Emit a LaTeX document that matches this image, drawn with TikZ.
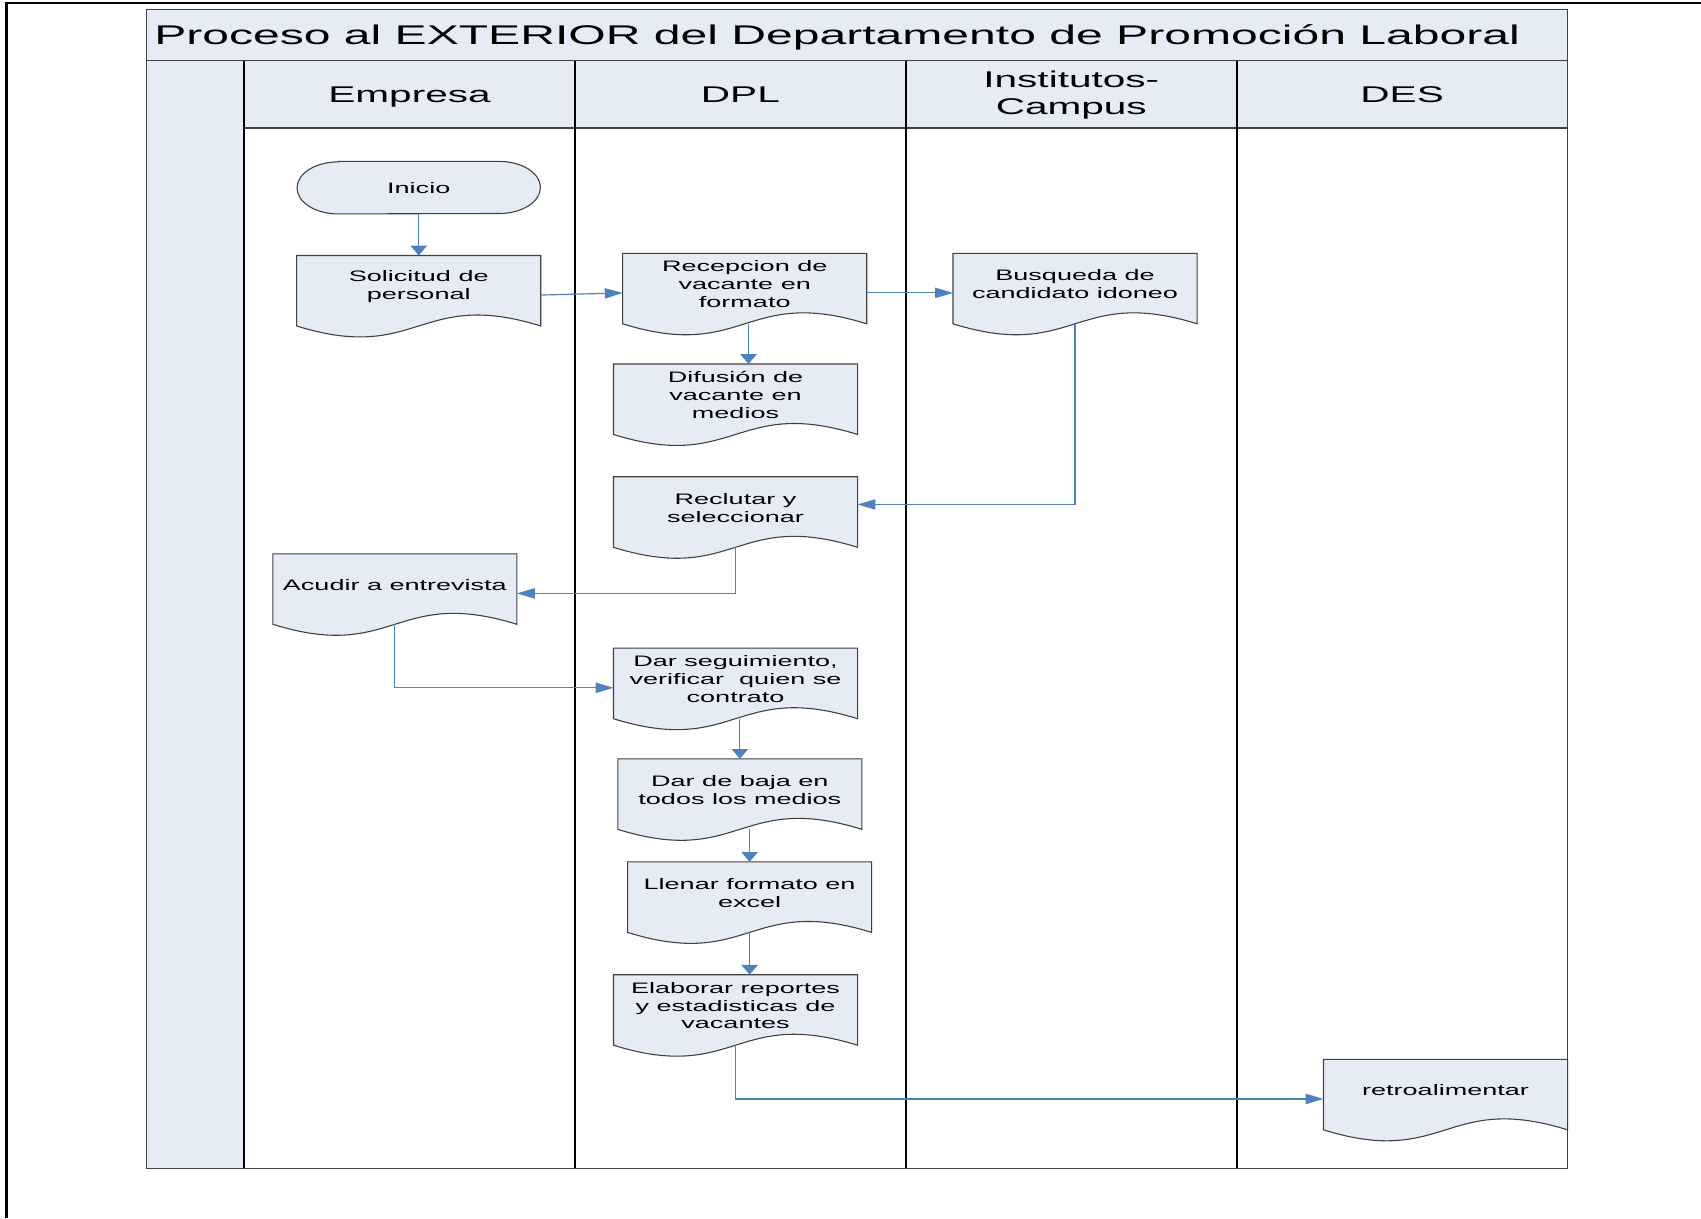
\documentclass[tikz,border=0pt]{standalone}
\usepackage{fontspec}
\setmainfont{Liberation Sans}[FakeStretch=1.78]
\usetikzlibrary{arrows.meta,backgrounds}

\definecolor{lanefill}{RGB}{230,236,246}
\definecolor{linkblue}{RGB}{79,129,189}
\definecolor{docline}{RGB}{64,64,64}

% document shape: box with a wavy bottom below the text box
\makeatletter
\newdimen\dwL \newdimen\dwR \newdimen\dwT \newdimen\dwB
\newdimen\dwM \newdimen\dwU \newdimen\dwD
\def\docdrop{8pt}
\def\docbend{35pt}
\pgfdeclareshape{docwave}{
  \inheritsavedanchors[from=rectangle]
  \inheritanchorborder[from=rectangle]
  \inheritanchor[from=rectangle]{center}
  \inheritanchor[from=rectangle]{north}
  \inheritanchor[from=rectangle]{south}
  \inheritanchor[from=rectangle]{east}
  \inheritanchor[from=rectangle]{west}
  \inheritanchor[from=rectangle]{north west}
  \inheritanchor[from=rectangle]{north east}
  \inheritanchor[from=rectangle]{south west}
  \inheritanchor[from=rectangle]{south east}
  \anchor{wave}{%
    \southwest \pgf@xa=\pgf@x \pgf@ya=\pgf@y
    \northeast
    \pgf@x=.5\pgf@x \advance\pgf@x by .5\pgf@xa
    \pgf@y=\pgf@ya \advance\pgf@y by -\docdrop
  }
  \backgroundpath{%
    \southwest \dwL=\pgf@x \dwB=\pgf@y
    \northeast \dwR=\pgf@x \dwT=\pgf@y
    \advance\dwB by -\docdrop
    \dwM=.5\dwL \advance\dwM by .5\dwR
    \dwU=\dwB \advance\dwU by \docbend
    \dwD=\dwB \advance\dwD by -\docbend
    \pgfpathmoveto{\pgfqpoint{\dwL}{\dwT}}
    \pgfpathlineto{\pgfqpoint{\dwR}{\dwT}}
    \pgfpathlineto{\pgfqpoint{\dwR}{\dwB}}
    \pgfpathcurveto{\pgfqpoint{\dwM}{\dwU}}{\pgfqpoint{\dwM}{\dwD}}{\pgfqpoint{\dwL}{\dwB}}
    \pgfpathclose
  }
}
\makeatother

\begin{document}
\begin{tikzpicture}[x=1pt,y=-1pt,
docnode/.style={
  shape=docwave,
  draw=docline,
  line width=1pt,
  fill=lanefill,
  minimum width=224pt,
  minimum height=56pt,
  inner sep=0pt,
  align=center,
  font=\fontsize{14}{16.5}\selectfont
  },
startnode/.style={minimum width=224pt, minimum height=48pt, inner sep=0pt, font=\fontsize{14}{16.5}\selectfont},
lanehead/.style={align=center, inner sep=0pt, font=\fontsize{21}{25}\selectfont},
poolframe/.style={draw=docline, line width=1.3pt},
lane/.style={draw=black, line width=1.8pt},
link/.style={draw=linkblue, line width=1.1pt},
vlink/.style={link, -{Triangle[width=15pt,length=9pt,fill=linkblue]}},
hlink/.style={link, -{Triangle[width=9.5pt,length=16.5pt,fill=linkblue]}}
]
\useasboundingbox (0,0) rectangle (1568,1123);
\draw[line width=2pt] (1568,3) -- (6,3) -- (6,1123);

% pool and lanes
\fill[lanefill] (135,9) rectangle (1445,56);
\fill[lanefill] (135,56) rectangle (225,1077);
\fill[lanefill] (225,56) rectangle (1445,118);
\draw[poolframe] (135,9) rectangle (1445,1077);
\draw[poolframe] (135,56) -- (1445,56);
\draw[poolframe] (225,118) -- (1445,118);
\foreach \x in {225,530,835,1140}
  \draw[lane] (\x,56) -- (\x,1077);
\node[anchor=west, inner sep=0pt, font=\fontsize{24.9}{28}\selectfont] (title) at (142,34.5)
  {Proceso al EXTERIOR del Departamento de Promoción Laboral};
\foreach \x/\y/\name/\txt in {377.5/89.5/emp/Empresa, 682.5/87/dpl/DPL, 987.5/88/inst/{Institutos-\\Campus}, 1292.5/87/des/DES}
  \node[lanehead] (\name) at (\x,\y) {\txt};

% steps
\node[startnode] (ini) at (386,173) {Inicio};
\node[docnode] (sol) at (386,264) {Solicitud de\\personal};
\node[docnode] (rec) at (686.5,262) {Recepcion de\\vacante en\\formato};
\node[docnode] (dif) at (678,364) {Difusión de\\vacante en\\medios};
\node[docnode] (bus) at (991,262) {Busqueda de\\candidato idoneo};
\node[docnode] (recl) at (678,468) {Reclutar y\\seleccionar};
\node[docnode] (acu) at (364,539) {Acudir a entrevista};
\node[docnode] (seg) at (678,626) {Dar seguimiento,\\verificar\ \ quien se\\contrato};
\node[docnode] (baja) at (682,728) {Dar de baja en\\todos los medios};
\node[docnode] (llen) at (691,823) {Llenar formato en\\excel};
\node[docnode] (elab) at (678,927) {Elaborar reportes\\y estadisticas de\\vacantes};
\node[docnode] (retro) at (1332.5,1005) {retroalimentar};

\begin{scope}[on background layer]
\draw[draw=docline, line width=1pt, fill=lanefill]
  ([xshift=38pt]ini.north west) -- ([xshift=-38pt]ini.north east)
  arc[start angle=90, end angle=-90, x radius=38pt, y radius=24pt]
  -- ([xshift=38pt]ini.south west)
  arc[start angle=270, end angle=90, x radius=38pt, y radius=24pt] -- cycle;
\end{scope}

% flow
\draw[vlink] (ini) -- (sol);
\draw[hlink] ([yshift=-8pt]sol.east) -- ([yshift=-8pt]rec.west);
\draw[hlink] ([yshift=-8pt]rec.east) -- ([yshift=-8pt]bus.west);
\draw[vlink] ([xshift=3.5pt]rec.wave) -- ([xshift=3.5pt]rec.wave |- dif.north);
\draw[hlink] (bus.wave) |- ([yshift=3pt]recl.east);
\draw[hlink] (recl.wave) |- ([yshift=-8pt]acu.east);
\draw[hlink] (acu.wave) |- ([yshift=-8pt]seg.west);
\draw[vlink] (baja.north |- seg.wave) -- (baja.north);
\draw[vlink] (llen.north |- baja.wave) -- (llen.north);
\draw[vlink] (llen.wave) -- (llen.wave |- elab.north);
\draw[hlink] (elab.wave) |- ([yshift=-8pt]retro.west);
\end{tikzpicture}
\end{document}
